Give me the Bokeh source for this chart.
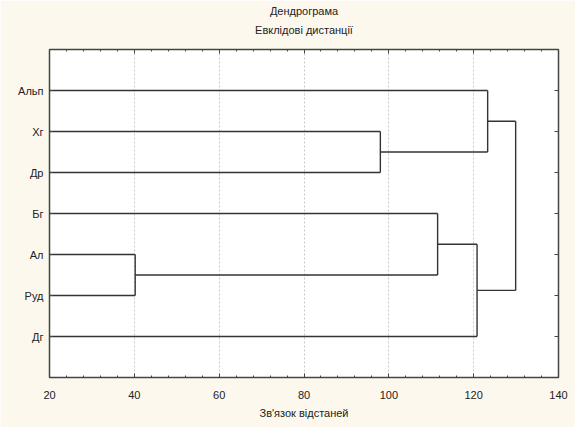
from bokeh.plotting import figure
from bokeh.models import Range1d, FixedTicker, LinearAxis, Title, CustomLabelingPolicy
from bokeh.embed import file_html
from bokeh.resources import INLINE

# Data
leaves = ["Альп", "Хг", "Др", "Бг", "Ал", "Руд", "Дг"]
# merges: (cluster a, cluster b, linkage distance); clusters 0..6 are leaves, new ids follow
merges = [(4, 5, 40.2), (1, 2, 98.0), (3, 7, 111.5), (6, 9, 120.8), (0, 8, 123.3), (10, 11, 129.9)]
x_ticks = [20, 40, 60, 80, 100, 120, 140]
x_minor = [20 + 4 * i for i in range(31)]
title1 = "Дендрограма"
title2 = "Евклідові дистанції"
x_label = "Зв'язок відстаней"

FONT = "Liberation Sans"
CREAM = "#fdf8ed"
LINE = "#333333"

p = figure(width=575, height=427,
           min_border_left=49, min_border_right=17, min_border_top=47, min_border_bottom=50,
           x_range=Range1d(20, 140), y_range=Range1d(8, 0),
           output_backend="svg", toolbar_location=None,
           background_fill_color="white", border_fill_color=CREAM,
           outline_line_color="#444444", outline_line_width=1.5)

# compute dendrogram segments
pos = {i: (i + 1.0) for i in range(len(leaves))}
hgt = {i: x_ticks[0] for i in range(len(leaves))}
x0, y0, x1, y1 = [], [], [], []
nid = len(leaves)
for a, b, h in merges:
    for c in (a, b):
        x0.append(hgt[c]); y0.append(pos[c]); x1.append(h); y1.append(pos[c])
    x0.append(h); y0.append(pos[a]); x1.append(h); y1.append(pos[b])
    pos[nid] = (pos[a] + pos[b]) / 2.0
    hgt[nid] = h
    nid += 1
p.segment(x0=x0, y0=y0, x1=x1, y1=y1, line_color=LINE, line_width=1.4)

hide_labels = CustomLabelingPolicy(code="""
const ids = Array.from(indices);
for (const i of ids) indices.unset(i);
return indices;
""")

def style(ax, labels=True):
    ax.axis_line_color = None
    ax.major_tick_in = 4
    ax.major_tick_out = 0
    ax.minor_tick_in = 2
    ax.minor_tick_out = 0
    ax.major_tick_line_color = "#444444"
    ax.minor_tick_line_color = "#444444"
    ax.major_label_text_font = FONT
    ax.major_label_text_font_size = "11px"
    ax.major_label_text_color = "#222222"
    if not labels:
        ax.major_label_policy = hide_labels
        ax.major_label_standoff = 0

xt = FixedTicker(ticks=x_ticks, minor_ticks=x_minor)
p.xaxis.ticker = xt
style(p.xaxis[0])
p.xaxis.major_label_standoff = 13
p.xaxis.axis_label = x_label
p.xaxis.axis_label_text_font = FONT
p.xaxis.axis_label_text_font_size = "11px"
p.xaxis.axis_label_text_font_style = "normal"
p.xaxis.axis_label_text_color = "#222222"
p.xaxis.axis_label_standoff = 5

yt = FixedTicker(ticks=list(range(1, len(leaves) + 1)), minor_ticks=[])
p.yaxis.ticker = yt
style(p.yaxis[0])
p.yaxis.major_label_overrides = {i + 1: lab for i, lab in enumerate(leaves)}
p.yaxis.major_label_standoff = 6
p.yaxis.minor_tick_line_color = None

top = LinearAxis(ticker=FixedTicker(ticks=x_ticks, minor_ticks=x_minor))
style(top, labels=False)
p.add_layout(top, "above")
right = LinearAxis(ticker=FixedTicker(ticks=list(range(1, len(leaves) + 1)), minor_ticks=[]))
style(right, labels=False)
right.minor_tick_line_color = None
p.add_layout(right, "right")

p.xgrid.ticker = xt
p.xgrid.grid_line_color = "#c8c8c8"
p.xgrid.grid_line_dash = "2 2"
p.ygrid.grid_line_color = None

p.add_layout(Title(text=title2, align="center", text_font=FONT, text_font_size="11px",
                   text_font_style="normal", text_color="#222222", standoff=6), "above")
p.add_layout(Title(text=title1, align="center", text_font=FONT, text_font_size="11px",
                   text_font_style="normal", text_color="#222222", standoff=4), "above")

open("out.html", "w").write(file_html(p, INLINE))
